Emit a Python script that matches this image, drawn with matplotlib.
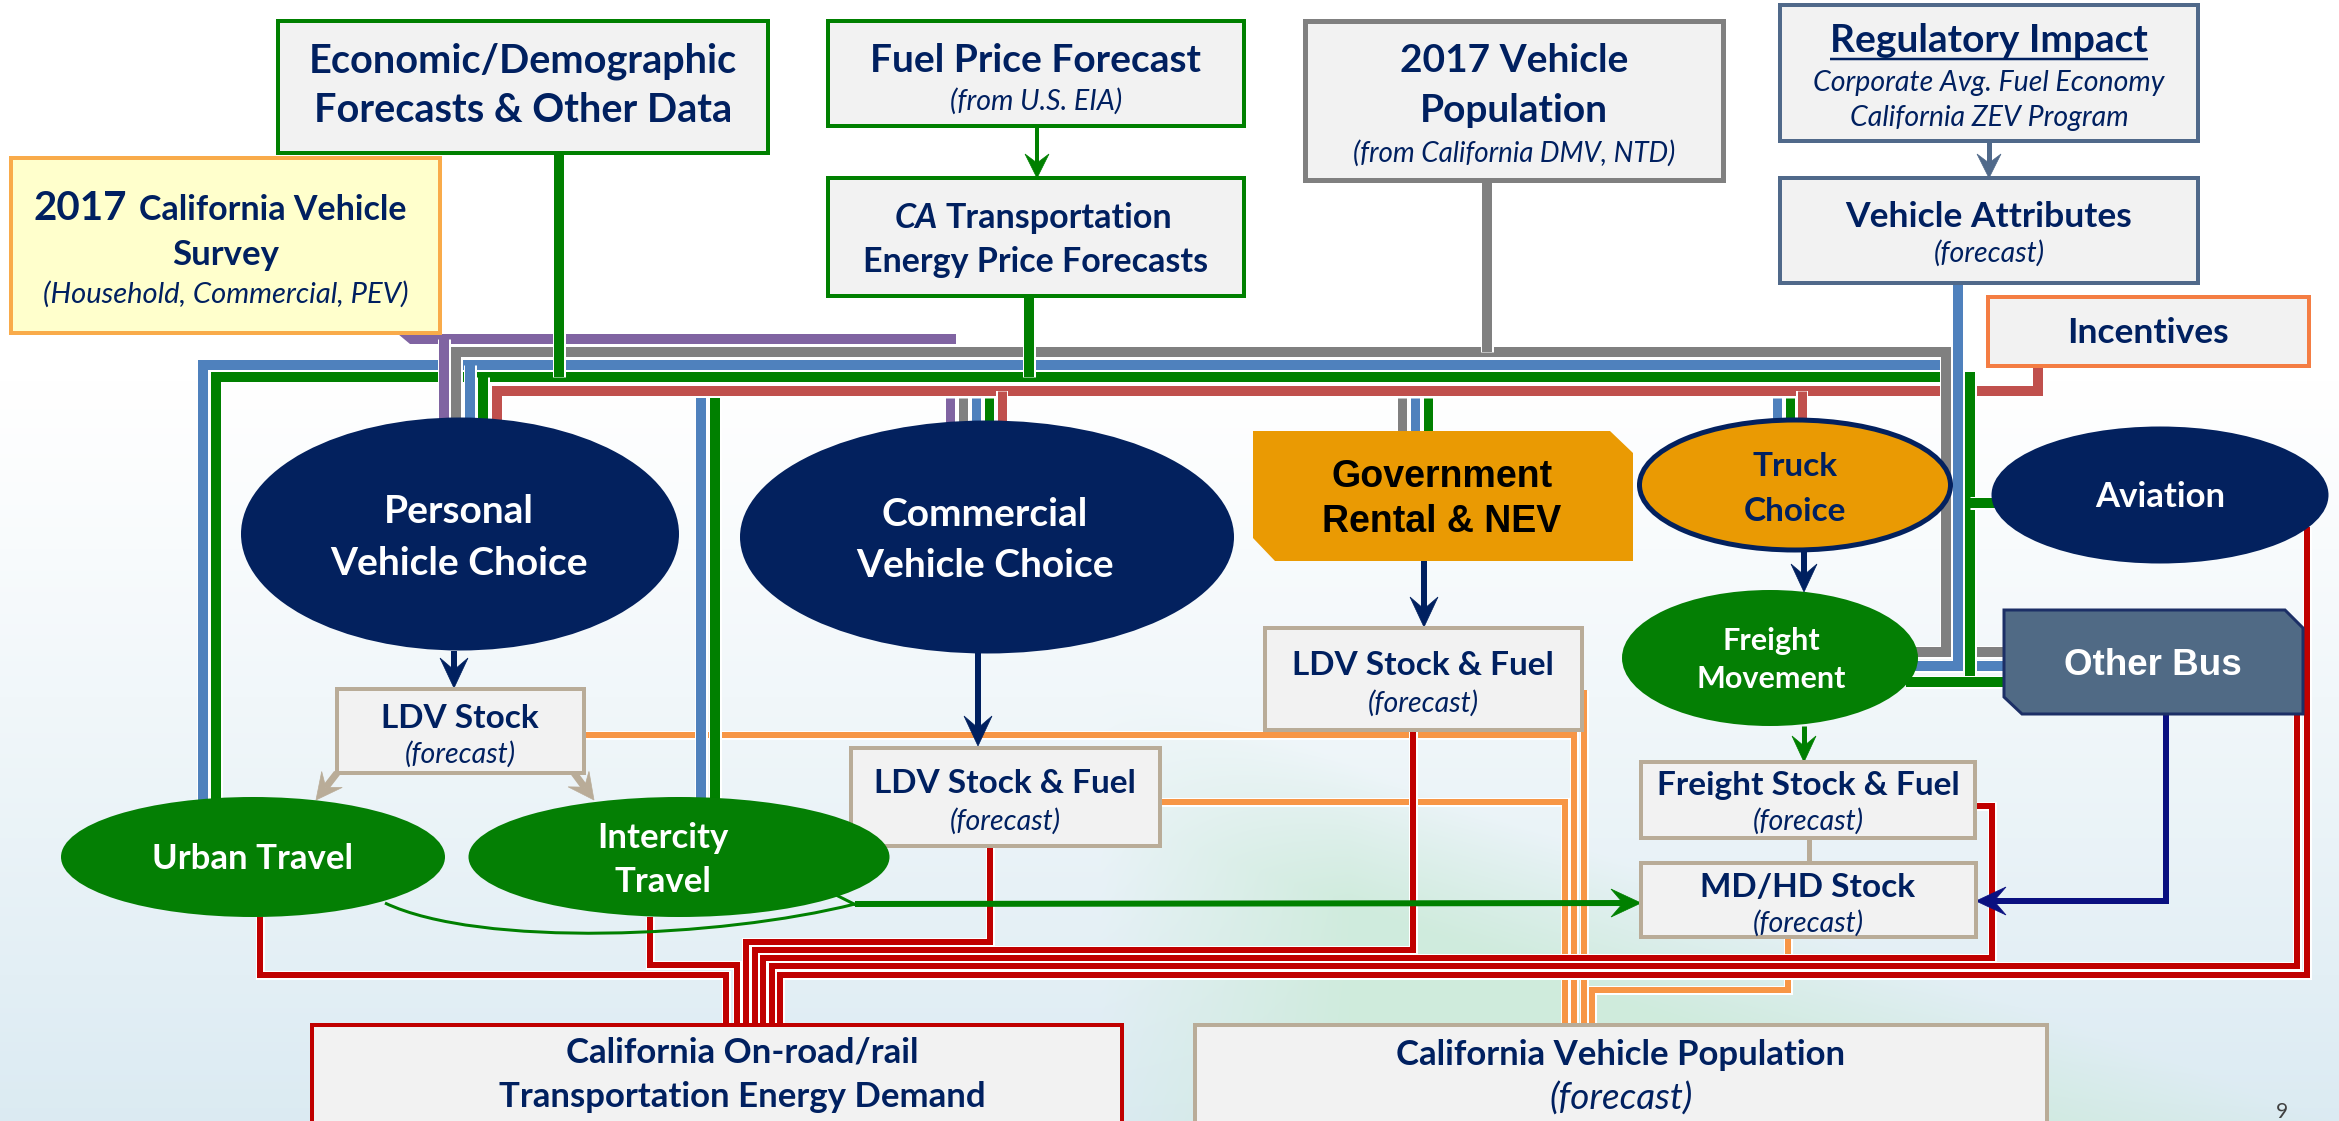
import numpy as np
import matplotlib
matplotlib.use("Agg")
import matplotlib.pyplot as plt
from matplotlib.patches import Rectangle, Ellipse, Polygon, PathPatch
from matplotlib.path import Path
import matplotlib.patheffects as pe

# ---------------- diagram content (text) ----------------
econ_lines = ["Economic/Demographic", "Forecasts & Other Data"]
survey_lines = ["2017", "California Vehicle", "Survey", "(Household, Commercial, PEV)"]
fuel_lines = ["Fuel Price Forecast", "(from U.S. EIA)"]
ca_lines = ["CA", "Transportation", "Energy Price Forecasts"]
vpop_lines = ["2017 Vehicle", "Population", "(from California DMV, NTD)"]
reg_lines = ["Regulatory Impact", "Corporate Avg. Fuel Economy", "California ZEV Program"]
vattr_lines = ["Vehicle Attributes", "(forecast)"]
incent_lines = ["Incentives"]
choice_labels = ["Personal\nVehicle Choice", "Commercial\nVehicle Choice", "Truck\nChoice", "Aviation",
                 "Freight\nMovement", "Urban Travel", "Intercity\nTravel"]
special_labels = ["Government\nRental & NEV", "Other Bus"]
stock_titles = ["LDV Stock", "LDV Stock & Fuel", "LDV Stock & Fuel", "Freight Stock & Fuel", "MD/HD Stock"]
stock_sub = "(forecast)"
output_lines = ["California On-road/rail", "Transportation Energy Demand",
                "California Vehicle Population", "(forecast)"]
page_number = "9"

# ---------------- canvas ----------------
W, H = 2339, 1121
DPI = 100
PX = 72.0 / DPI
FONT = "Lato"
ARIAL = "Liberation Sans"

NAVY = "#002060"
NAVYFILL = "#03215E"
GREEN = "#008000"
GREENFILL = "#047F04"
BLUE = "#4F81BD"
GRAY = "#808080"
PURPLE = "#8064A2"
RED_BUS = "#C0504D"
RED = "#C00000"
ORANGE = "#F79646"
TAN = "#B9AC98"
BOXFILL = "#F2F2F2"
SLATE = "#50698A"

fig = plt.figure(figsize=(W / DPI, H / DPI), dpi=DPI)
ax = fig.add_axes([0, 0, 1, 1])
ax.set_xlim(0, W)
ax.set_ylim(H, 0)
ax.axis("off")

# ---------------- background ----------------
yy, xx = np.mgrid[0:H, 0:W].astype(np.float32)
t = np.clip((yy - 380) / (H - 380), 0, 1) ** 1.1
bottom = np.array([0.86, 0.92, 0.95], dtype=np.float32)
img = 1 - t[..., None] * (1 - bottom)
yl = 690 + (xx - 1150) * 0.3625
m = np.clip((yy - yl) / 140, 0, 1) * np.clip((xx - 1100) / 250, 0, 1) * 0.85
mint = np.array([0.80, 0.92, 0.85], dtype=np.float32)
img = img * (1 - m[..., None]) + mint * m[..., None]
ax.imshow(img, extent=(0, W, H, 0), zorder=0, aspect="auto", interpolation="bilinear")


def P(v):
    return v * PX


def line(points, color, lw, z=2, outline=1.5):
    xs, ys = zip(*points)
    ln, = ax.plot(xs, ys, color=color, lw=P(lw), solid_capstyle="butt",
                  solid_joinstyle="miter", zorder=z)
    if outline:
        ln.set_path_effects([pe.Stroke(linewidth=P(lw + 2 * outline), foreground="white"), pe.Normal()])
    return ln


def head(tip, d, color, L=26, Wd=13, notch=10, z=4):
    d = np.array(d, float)
    d = d / np.hypot(*d)
    n = np.array([-d[1], d[0]])
    tip = np.array(tip, float)
    pts = [tip, tip - L * d + Wd * n, tip - (L - notch) * d, tip - L * d - Wd * n]
    ax.add_patch(Polygon(pts, closed=True, facecolor=color, edgecolor=color, lw=0.5, zorder=z))


def arrow(pts, color, lw, L=26, Wd=13, notch=10, z=4):
    pts = [np.array(p, float) for p in pts]
    d = pts[-1] - pts[-2]
    dn = d / np.hypot(*d)
    end = pts[-1] - (L - notch) * dn
    line([tuple(p) for p in pts[:-1]] + [tuple(end)], color, lw, z=z, outline=0)
    head(tuple(pts[-1]), d, color, L, Wd, notch, z)


def box(x0, y0, x1, y1, edge, face=BOXFILL, lw=4, z=5):
    ax.add_patch(Rectangle((x0, y0), x1 - x0, y1 - y0, facecolor=face, edgecolor=edge,
                           lw=P(lw), zorder=z, joinstyle="miter"))


def txt(x, y, s, size, color=NAVY, weight="bold", style="normal", family=FONT, ha="center", z=7):
    return ax.text(x, y, s, fontsize=size, color=color, fontweight=weight, fontstyle=style,
                   family=family, ha=ha, va="baseline", zorder=z)


# ---------------- connector lines ----------------
line([(1946, 652), (2006, 652)], GRAY, 10)
line([(1958, 666), (2006, 666)], BLUE, 10)

line([(584, 735), (1574, 735), (1574, 1030)], ORANGE, 6, z=2)
line([(1160, 802), (1565, 802), (1565, 1030)], ORANGE, 6, z=2)
line([(1584, 690), (1584, 1030)], ORANGE, 6, z=2)
line([(1788, 937), (1788, 990), (1592, 990), (1592, 1030)], ORANGE, 6, z=2)

line([(497, 420), (497, 391), (2038, 391), (2038, 364)], RED_BUS, 10, z=2.1)
line([(216, 800), (216, 377), (1970, 377), (1970, 682)], GREEN, 10, z=2.2)
line([(1906, 682), (2006, 682)], GREEN, 10, z=2.2)
line([(1970, 503), (1996, 503)], GREEN, 10, z=2.2)
line([(483, 377), (483, 420)], GREEN, 10, z=2.2)
line([(203, 800), (203, 365), (1958, 365)], BLUE, 10, z=2.3)
line([(1958, 285), (1958, 666), (1912, 666)], BLUE, 10, z=2.3)
line([(470, 365), (470, 420)], BLUE, 10, z=2.3)
line([(456, 420), (456, 352), (1946, 352), (1946, 652), (1915, 652)], GRAY, 10, z=2.4)
line([(1487, 180), (1487, 352)], GRAY, 10, z=2.4)
line([(420, 339), (956, 339)], PURPLE, 10, z=2.5)
ax.add_patch(Polygon([(398, 334), (430, 334), (430, 344), (410, 344)], closed=True,
                     facecolor=PURPLE, edgecolor="none", zorder=2.5))
line([(444, 339), (444, 420)], PURPLE, 10, z=2.5)
line([(559, 153), (559, 377)], GREEN, 10, z=2.6)
line([(1029, 296), (1029, 377)], GREEN, 10, z=2.6)

for xs, col in zip([950, 963, 976, 989], [PURPLE, GRAY, BLUE, GREEN]):
    line([(xs, 398), (xs, 432)], col, 9, z=2.7)
line([(1002, 391), (1002, 432)], RED_BUS, 9, z=2.7)
for xs, col in zip([1402, 1415, 1428], [GRAY, BLUE, GREEN]):
    line([(xs, 398), (xs, 436)], col, 9, z=2.7)
for xs, col in zip([1777, 1790], [BLUE, GREEN]):
    line([(xs, 398), (xs, 428)], col, 9, z=2.7)
line([(1802, 391), (1802, 428)], RED_BUS, 9, z=2.7)
line([(701, 398), (701, 800)], BLUE, 10, z=2.7)
line([(715, 398), (715, 800)], GREEN, 10, z=2.7)

line([(260, 917), (260, 975), (726, 975), (726, 1030)], RED, 6, z=3)
line([(650, 917), (650, 965), (737, 965), (737, 1030)], RED, 6, z=3)
line([(990, 846), (990, 942), (746, 942), (746, 1030)], RED, 6, z=3)
line([(1413, 730), (1413, 950), (755, 950), (755, 1030)], RED, 6, z=3)
line([(1975, 806), (1992, 806), (1992, 958), (763, 958), (763, 1030)], RED, 6, z=3)
line([(2297, 714), (2297, 966), (772, 966), (772, 1030)], RED, 6, z=3)
line([(2307, 527), (2307, 975), (780, 975), (780, 1030)], RED, 6, z=3)

arrow([(1037, 126), (1037, 178)], GREEN, 4, L=24, Wd=12, notch=9)
arrow([(1989, 141), (1989, 178)], SLATE, 5, L=24, Wd=12, notch=9)
arrow([(454, 651), (454, 688)], NAVY, 6, L=30, Wd=14, notch=12)
arrow([(978, 653), (978, 746)], NAVY, 6, L=30, Wd=14, notch=12)
arrow([(1424, 561), (1424, 627)], NAVY, 6, L=30, Wd=14, notch=12)
arrow([(1804, 550), (1804, 592)], NAVY, 6, L=28, Wd=13, notch=11)
arrow([(1804, 726), (1804, 762)], GREEN, 5, L=26, Wd=12, notch=10)
arrow([(337, 773), (316, 800)], TAN, 7, L=26, Wd=13, notch=10)
arrow([(574, 773), (594, 800)], TAN, 7, L=26, Wd=13, notch=10)
line([(1809, 838), (1809, 863)], TAN, 5, z=4, outline=0)
arrow([(855, 904), (1641, 903)], GREEN, 6, L=30, Wd=14, notch=12, z=4)
arrow([(2166, 714), (2166, 901), (1976, 901)], "#0A1080", 6, L=30, Wd=14, notch=12, z=4)
curve = Path([(385, 903), (480, 948), (720, 938), (855, 904)],
             [Path.MOVETO, Path.CURVE4, Path.CURVE4, Path.CURVE4])
ax.add_patch(PathPatch(curve, facecolor="none", edgecolor=GREEN, lw=P(3), zorder=4))
line([(820, 887), (856, 905)], GREEN, 3, z=4, outline=0)

# ---------------- boxes ----------------
box(278, 21, 768, 153, GREEN)
box(11, 158, 440, 333, "#F9AB4A", face="#FFFFCC")
box(828, 21, 1244, 126, GREEN)
box(828, 178, 1244, 296, GREEN)
box(1305, 21, 1723, 180, GRAY, lw=5)
box(1780, 5, 2198, 141, SLATE)
box(1780, 178, 2198, 283, SLATE)
box(1988, 297, 2309, 366, "#F47D43")
box(337, 689, 584, 773, TAN)
box(851, 748, 1160, 846, TAN)
box(1265, 628, 1582, 730, TAN)
box(1641, 762, 1975, 838, TAN)
box(1641, 863, 1976, 937, TAN)
box(312, 1025, 1122, 1140, RED)
box(1195, 1025, 2047, 1140, TAN)

ax.add_patch(Polygon([(1253, 431), (1610, 431), (1633, 453), (1633, 561), (1275, 561), (1253, 538)],
                     closed=True, facecolor="#EA9A03", edgecolor="none", zorder=5))
ax.add_patch(Polygon([(2004, 610), (2285, 610), (2303, 628), (2303, 714), (2022, 714), (2004, 697)],
                     closed=True, facecolor="#506A85", edgecolor="#1C2F66", lw=P(3), zorder=5))

ax.add_patch(Ellipse((460, 534), 438, 233, facecolor=NAVYFILL, edgecolor="none", zorder=5))
ax.add_patch(Ellipse((987, 537), 494, 233, facecolor=NAVYFILL, edgecolor="none", zorder=5))
ax.add_patch(Ellipse((1795, 485), 311, 130, facecolor="#EA9A03", edgecolor=NAVYFILL, lw=P(5), zorder=5))
ax.add_patch(Ellipse((2160, 495), 337, 137, facecolor=NAVYFILL, edgecolor="none", zorder=5))
ax.add_patch(Ellipse((1770, 658), 296, 136, facecolor=GREENFILL, edgecolor="none", zorder=5))
ax.add_patch(Ellipse((253, 857), 384, 120, facecolor=GREENFILL, edgecolor="none", zorder=5))
ax.add_patch(Ellipse((679, 857), 421, 120, facecolor=GREENFILL, edgecolor="none", zorder=5))

# ---------------- texts ----------------
txt(523, 72, econ_lines[0], 28.5)
txt(523, 122, econ_lines[1], 28.5)

txt(127, 220, survey_lines[0], 29, ha="right")
txt(139, 220, survey_lines[1], 24.5, ha="left")
txt(226, 265, survey_lines[2], 25)
txt(226, 303, survey_lines[3], 21, weight="normal", style="italic")

txt(1036, 72, fuel_lines[0], 28)
txt(1036, 110, fuel_lines[1], 20.5, weight="normal", style="italic")

txt(938, 228, ca_lines[0], 24.5, style="italic", ha="right")
txt(946, 228, ca_lines[1], 24.5, ha="left")
txt(1036, 272, ca_lines[2], 24.5)

txt(1514, 72, vpop_lines[0], 28)
txt(1514, 122, vpop_lines[1], 28)
txt(1514, 162, vpop_lines[2], 20, weight="normal", style="italic")

reg_t = txt(1989, 52, reg_lines[0], 28)
txt(1989, 91, reg_lines[1], 20.5, weight="normal", style="italic")
txt(1989, 126, reg_lines[2], 20.5, weight="normal", style="italic")

txt(1989, 227, vattr_lines[0], 25.5)
txt(1989, 262, vattr_lines[1], 20.5, weight="normal", style="italic")

txt(2148, 343, incent_lines[0], 25.5)

choice_pos = [(459, [523, 575], 28, "white"), (985, [526, 577], 28, "white"),
              (1795, [476, 521], 24, NAVY), (2160, [507], 25, "white"),
              (1771, [650, 688], 22, "white"), (253, [869], 25, "white"),
              (663, [848, 892], 25, "white")]
for lab, (cx, ys, sz, col) in zip(choice_labels, choice_pos):
    for s, yb in zip(lab.split("\n"), ys):
        txt(cx, yb, s, sz, color=col)

txt(1442, 487, special_labels[0].split("\n")[0], 27, color="black", family=ARIAL)
txt(1442, 532, special_labels[0].split("\n")[1], 27, color="black", family=ARIAL)
txt(2153, 675, special_labels[1], 26.5, color="white", family=ARIAL)

stock_pos = [(460, 728, 763), (1005, 793, 830), (1423, 675, 712), (1808, 795, 830), (1808, 897, 932)]
for title, (cx, y1, y2) in zip(stock_titles, stock_pos):
    txt(cx, y1, title, 24)
    txt(cx, y2, stock_sub, 20.5, weight="normal", style="italic")

txt(742, 1062, output_lines[0], 25)
txt(742, 1107, output_lines[1], 25)
txt(1621, 1065, output_lines[2], 25)
txt(1621, 1110, output_lines[3], 26.5, weight="normal", style="italic")

txt(2282, 1118, page_number, 15, color="#404040", weight="normal")

# underline under "Regulatory Impact"
fig.canvas.draw()
bb = reg_t.get_window_extent()
inv = ax.transData.inverted()
(ux0, _), (ux1, _) = inv.transform([(bb.x0, bb.y0), (bb.x1, bb.y0)])
line([(ux0, 59), (ux1, 59)], NAVY, 2.5, z=7, outline=0)

fig.savefig("out.png", dpi=DPI)
